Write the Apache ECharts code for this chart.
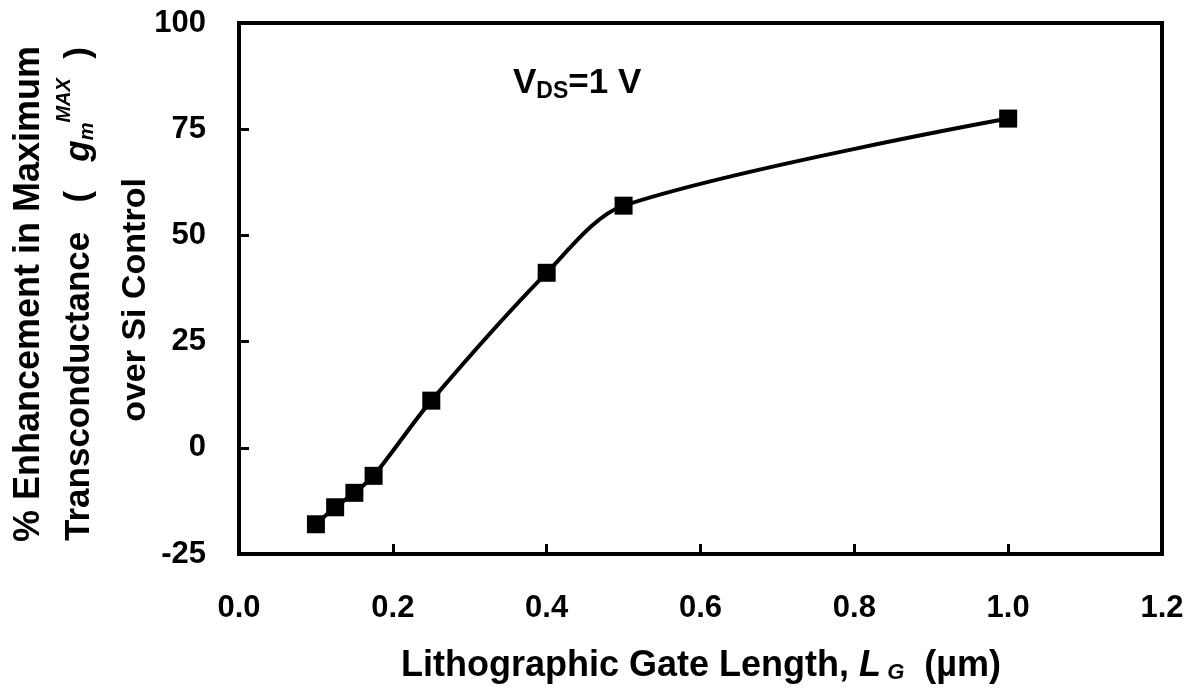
<!DOCTYPE html>
<html>
<head>
<meta charset="utf-8">
<script src="https://cdn.jsdelivr.net/npm/echarts@6/dist/echarts.min.js"></script>
<style>
html,body{margin:0;padding:0;background:#fff;}
#main{width:1198px;height:695px;}
</style>
</head>
<body>
<div id="main"></div>
<script>
// gate length (um) and % enhancement of gm max
var gateLength = [0.1, 0.125, 0.15, 0.175, 0.25, 0.4, 0.5, 1.0];
var enhancement = [-18, -14, -10.6, -6.6, 11.1, 41.2, 57, 77.5];
var xTicks = [0, 0.2, 0.4, 0.6, 0.8, 1.0, 1.2];
var yTicks = [-25, 0, 25, 50, 75, 100];

var font = 'Liberation Sans, Arial, sans-serif';

function initChart() {
	var myChart = echarts.init(document.getElementById('main'));
	var pts = [];
	for (var i = 0; i < gateLength.length; i++) {
		pts.push([gateLength[i], enhancement[i]]);
	}
	var option = {
		backgroundColor: '#fff',
		animation: false,
		grid: {
			left: 239,
			top: 23,
			right: 36,
			bottom: 141,
			show: true,
			borderColor: '#000',
			borderWidth: 4
		},
		xAxis: {
			type: 'value',
			min: xTicks[0],
			max: xTicks[xTicks.length - 1],
			interval: 0.2,
			axisLine: {onZero: false, lineStyle: {color: '#000', width: 4}},
			axisTick: {inside: true, length: 10, lineStyle: {color: '#000', width: 3}},
			splitLine: {show: false},
			axisLabel: {
				color: '#000',
				fontFamily: font,
				fontWeight: 'bold',
				fontSize: 31,
				margin: 39,
				formatter: function (v) { return v.toFixed(1); }
			}
		},
		yAxis: {
			type: 'value',
			min: yTicks[0],
			max: yTicks[yTicks.length - 1],
			interval: 25,
			axisLine: {onZero: false, lineStyle: {color: '#000', width: 4}},
			axisTick: {inside: true, length: 10, lineStyle: {color: '#000', width: 3}},
			splitLine: {show: false},
			axisLabel: {
				color: '#000',
				fontFamily: font,
				fontWeight: 'bold',
				fontSize: 31,
				margin: 33
			}
		},
		series: [{
			type: 'line',
			data: pts,
			smooth: 0.3,
			symbol: 'rect',
			symbolSize: 18,
			itemStyle: {color: '#000'},
			lineStyle: {color: '#000', width: 4}
		}],
		graphic: [
			{
				type: 'text', left: 513, top: 66,
				style: {
					text: '{b|V}{s|DS}{b|=1 V}',
					fill: '#000',
					rich: {
						b: {fontFamily: font, fontWeight: 'bold', fontSize: 35, fill: '#000'},
						s: {fontFamily: font, fontWeight: 'bold', fontSize: 23, fill: '#000', verticalAlign: 'bottom', padding: [16, 0, 0, 0]}
					}
				}
			},
			{
				type: 'text', x: 701, y: 666,
				style: {
					text: '{b|Lithographic Gate Length, }{i|L}{s| G}{b|  (\u00b5m)}',
					align: 'center',
					verticalAlign: 'middle',
					fill: '#000',
					rich: {
						b: {fontFamily: font, fontWeight: 'bold', fontSize: 36, fill: '#000'},
						i: {fontFamily: font, fontWeight: 'bold', fontStyle: 'italic', fontSize: 36, fill: '#000'},
						s: {fontFamily: font, fontWeight: 'bold', fontStyle: 'italic', fontSize: 22, fill: '#000', padding: [14, 0, 0, 0]}
					}
				}
			},
			{
				type: 'text', x: 29, y: 294, rotation: Math.PI / 2,
				style: {
					text: '% Enhancement in Maximum',
					align: 'center', verticalAlign: 'middle',
					fill: '#000',
					font: 'bold 36px ' + font
				}
			},
			{
				type: 'text', x: 79, y: 294, rotation: Math.PI / 2,
				style: {
					text: '{b|Transconductance   (   }{i|g}{s|m}{p|MAX}{b|  )}',
					align: 'center', verticalAlign: 'middle',
					fill: '#000',
					rich: {
						b: {fontFamily: font, fontWeight: 'bold', fontSize: 35, fill: '#000'},
						i: {fontFamily: font, fontWeight: 'bold', fontStyle: 'italic', fontSize: 35, fill: '#000'},
						s: {fontFamily: font, fontWeight: 'bold', fontStyle: 'italic', fontSize: 20, fill: '#000', padding: [16, 0, 0, 0]},
						p: {fontFamily: font, fontWeight: 'bold', fontStyle: 'italic', fontSize: 20, fill: '#000', padding: [0, 0, 30, 0]}
					}
				}
			},
			{
				type: 'text', x: 136, y: 300, rotation: Math.PI / 2,
				style: {
					text: 'over Si Control',
					align: 'center', verticalAlign: 'middle',
					fill: '#000',
					font: 'bold 34px ' + font
				}
			}
		]
	};
	myChart.setOption(option);
}
initChart();
</script>
</body>
</html>
